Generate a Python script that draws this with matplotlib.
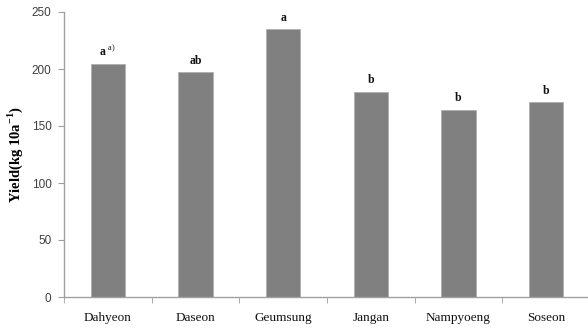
import matplotlib
matplotlib.use("Agg")
import matplotlib.pyplot as plt
import numpy as np

cultivars = ["Dahyeon", "Daseon", "Geumsung", "Jangan", "Nampyoeng", "Soseon"]
yields = [204, 197, 235, 180, 164, 171]
groups = ["a", "ab", "a", "b", "b", "b"]
y_ticks = [0, 50, 100, 150, 200, 250]

plt.rcParams["mathtext.fontset"] = "custom"
plt.rcParams["mathtext.rm"] = "Liberation Serif"
plt.rcParams["mathtext.bf"] = "Liberation Serif:bold"

fig = plt.figure(figsize=(5.88, 3.31), dpi=100)
ax = fig.add_axes([64 / 588, 34 / 331, 526 / 588, 285 / 331])

x = np.arange(len(cultivars))
ax.bar(x, yields, width=0.39, color="#808080", edgecolor="#b0b0b0", linewidth=0.6, zorder=2)

ax.set_xlim(-0.5, len(cultivars) - 0.5)
ax.set_ylim(0, 250)
ax.set_yticks(y_ticks)
ax.set_yticklabels([str(v) for v in y_ticks], fontsize=8.5, color="#404040",
                   family="Liberation Sans")
ax.set_xticks(x)
ax.set_xticklabels(cultivars, fontsize=9.5, family="Liberation Serif", color="#111111")
ax.tick_params(axis="x", length=0, pad=11)
ax.set_xticks(np.arange(len(cultivars) + 1) - 0.5, minor=True)
ax.tick_params(axis="x", which="minor", length=4, color="#a0a0a0", direction="out")
ax.tick_params(axis="y", length=4, color="#a0a0a0", direction="out", pad=5)

for side in ("top", "right"):
    ax.spines[side].set_visible(False)
for side in ("left", "bottom"):
    ax.spines[side].set_color("#a0a0a0")
    ax.spines[side].set_linewidth(1.0)

for xi, val, g in zip(x, yields, groups):
    label = g if xi != 0 else r"a $^{\mathrm{a)}}$"
    ax.annotate(label, (xi, val), xytext=(0, 4), textcoords="offset points",
                ha="center", va="bottom", fontsize=8.5, fontweight="bold",
                family="Liberation Serif", color="#111111")

ax.set_ylabel(r"Yield(kg 10a$^{\mathbf{-1}}$)", fontsize=10.5, fontweight="bold",
              family="Liberation Serif", labelpad=5)

fig.savefig("out.png", dpi=100)
